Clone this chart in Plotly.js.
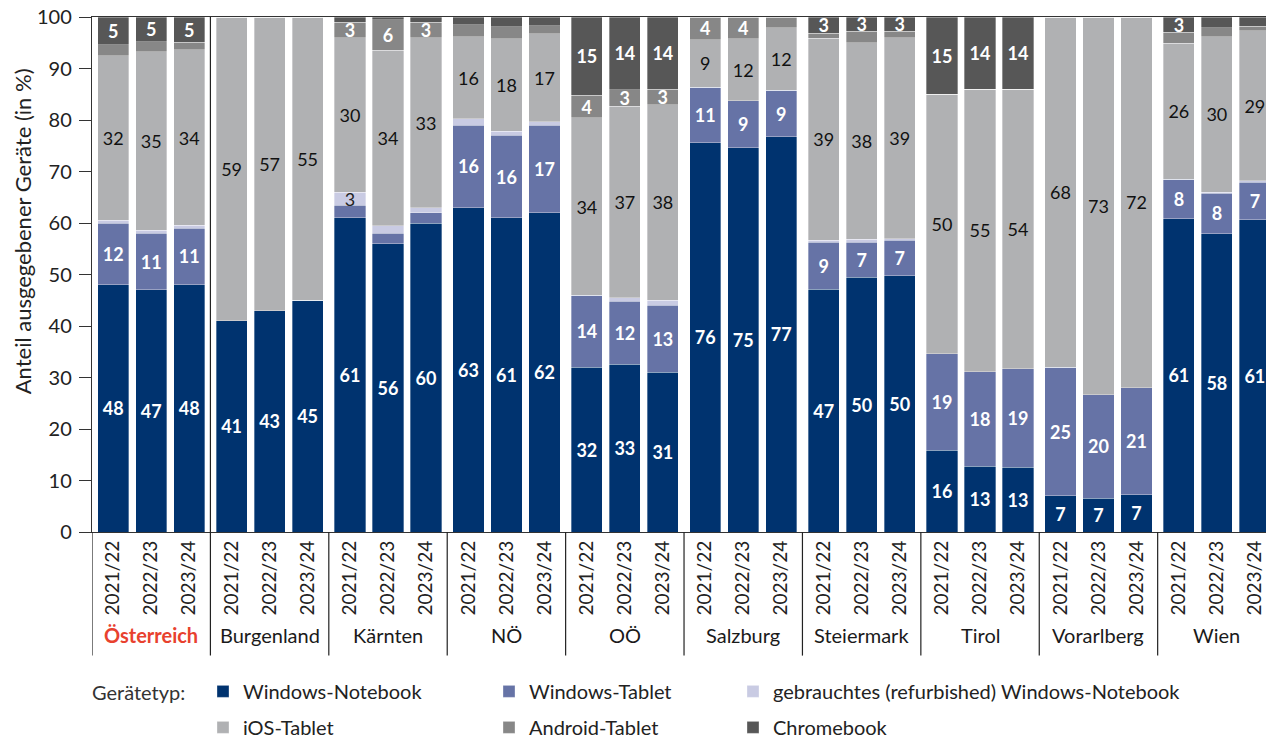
<!DOCTYPE html>
<html><head><meta charset="utf-8">
<script src="https://cdn.plot.ly/plotly-3.0.1.min.js"></script>
<style>html,body{margin:0;padding:0;background:#fff}</style>
</head><body><div id="chart" style="width:1266px;height:738px"></div>
<script>
// ---- data ----
const regions = ['Österreich','Burgenland','Kärnten','NÖ','OÖ','Salzburg','Steiermark','Tirol','Vorarlberg','Wien'];
const years = ['2021/22','2022/23','2023/24'];
const windowsNotebook = [48,47,48, 41,43,45, 61,56,60, 63,61,62, 32,32.6,31, 75.6,74.6,76.7, 47.1,49.5,49.8, 15.9,12.8,12.6, 7,6.6,7.2, 60.8,57.9,60.6];
const windowsTablet   = [12,11,11, 0,0,0, 2.4,2,2, 16,16,17, 14,12.2,13, 10.8,9.1,9.1, 9.2,6.8,6.9, 18.7,18.3,19.1, 25,20.1,20.8, 7.7,7.9,7.3];
const refurbished     = [0.5,0.6,0.6, 0,0,0, 2.6,1.5,1, 1.2,0.8,0.7, 0,0.7,1, 0,0,0, 0.4,0.5,0.2, 0,0,0, 0,0,0, 0,0.2,0.3];
const iosTablet       = [32,34.7,34, 59,57,55, 30,34,33, 16,18,17, 34.4,37.2,38, 9.2,12.1,12.1, 39.2,38.2,39.1, 50.4,54.9,54.3, 68,73.3,72, 26.4,30.2,29.1];
const androidTablet   = [2.1,1.9,1.5, 0,0,0, 3,6,3, 2.3,2.3,1.6, 4.4,3.2,3, 4.4,4.2,2.1, 0.9,2.2,1.2, 0,0,0, 0,0,0, 2.1,1.7,0.9];
const chromebook      = [5.4,4.8,4.9, 0,0,0, 1,0.5,1, 1.5,1.9,1.7, 15.2,14.1,14, 0,0,0, 3.2,2.8,2.8, 15,14,14, 0,0,0, 3,2.1,1.8];
const yTitle = 'Anteil ausgegebener Geräte (in %)';
const legendTitle = 'Gerätetyp:';

// ---- layout helpers ----
const FONT = 'Lato, "Noto Sans", sans-serif';
const groupStep = 3.116;           // bars per group incl. gap
const half = 0.558;                // distance bar centre -> group edge
const xPos = [], tickText = [];
regions.forEach((r, g) => years.forEach((y, i) => { xPos.push(g * groupStep + i); tickText.push(y); }));
const labels = v => v.map(d => d >= 2.5 ? String(Math.round(d)) : '');

const series = [
  {name: 'Windows-Notebook', y: windowsNotebook, color: '#00336f', tc: '#ffffff', bold: true, legend: 'legend'},
  {name: 'Windows-Tablet', y: windowsTablet, color: '#6673a6', tc: '#ffffff', bold: true, legend: 'legend2'},
  {name: 'gebrauchtes (refurbished) Windows-Notebook', y: refurbished, color: '#c9cbe3', tc: '#222222', bold: false, legend: 'legend3'},
  {name: 'iOS-Tablet', y: iosTablet, color: '#b0b1b3', tc: '#111111', bold: false, legend: 'legend'},
  {name: 'Android-Tablet', y: androidTablet, color: '#878787', tc: '#ffffff', bold: true, legend: 'legend2'},
  {name: 'Chromebook', y: chromebook, color: '#575757', tc: '#ffffff', bold: true, legend: 'legend3'}
];

const traces = series.map((s, k) => ({
  type: 'bar', name: s.name, x: xPos, y: s.y, width: 0.82,
  marker: {color: s.color, line: {color: 'rgba(255,255,255,0.55)', width: 0.6}},
  text: labels(s.y), textposition: 'inside', insidetextanchor: 'middle', textangle: 0,
  constraintext: 'none',
  insidetextfont: {family: FONT, size: 18, color: s.tc, weight: s.bold ? 700 : 400},
  hoverinfo: 'skip', legend: s.legend, legendgroup: 'g' + k
}));

const shapes = [];
for (let g = 0; g < regions.length; g++) {
  const xb = g * groupStep - half;
  shapes.push({type: 'line', xref: 'x', yref: 'paper', x0: xb, x1: xb, y0: g === 1 ? 1 : 0, y1: -0.24,
    line: {color: '#222', width: 1.2}});
}

const annotations = regions.map((r, g) => ({
  xref: 'x', yref: 'paper', x: g * groupStep + 1, y: -0.2, text: r, showarrow: false,
  xanchor: 'center', yanchor: 'middle',
  font: {family: FONT, size: 20, color: g === 0 ? '#e8412e' : '#1a1a1a', weight: g === 0 ? 700 : 400}
}));
annotations.push({xref: 'paper', yref: 'paper', x: -0.002, y: -0.311, text: legendTitle, showarrow: false,
  xanchor: 'left', yanchor: 'middle', font: {family: FONT, size: 20, color: '#333'}});
annotations.push({xref: 'paper', yref: 'paper', x: -0.0596, y: 0.584, text: yTitle, showarrow: false,
  textangle: -90, xanchor: 'center', yanchor: 'middle', font: {family: FONT, size: 22, color: '#222'}});

const legendBase = {orientation: 'v', xref: 'container', yref: 'container', yanchor: 'top', xanchor: 'left',
  y: 0.0896, traceorder: 'grouped', tracegroupgap: 7, bgcolor: 'rgba(0,0,0,0)',
  font: {family: FONT, size: 20, color: '#222'}};

const layout = {
  width: 1266, height: 738,
  margin: {l: 92, r: 0, t: 17, b: 206, autoexpand: false},
  paper_bgcolor: '#ffffff', plot_bgcolor: '#ffffff',
  barmode: 'stack', bargap: 0,
  uniformtext: {mode: 'show', minsize: 18},
  font: {family: FONT, color: '#222'},
  xaxis: {range: [-half, 30.337], showline: true, mirror: true, linecolor: '#333', linewidth: 1.2,
    tickvals: xPos, ticktext: tickText, tickangle: -90, ticks: '', showgrid: false, zeroline: false,
    tickfont: {family: FONT, size: 19, color: '#222'}},
  yaxis: {range: [0, 100], dtick: 10, showline: true, linecolor: '#333', linewidth: 1.2,
    ticks: 'outside', ticklen: 12, tickcolor: '#333', ticklabelstandoff: 3, showgrid: false, zeroline: false,
    tickfont: {family: FONT, size: 20, color: '#222'}},
  legend: Object.assign({}, legendBase, {x: 203 / 1266}),
  legend2: Object.assign({}, legendBase, {x: 489 / 1266}),
  legend3: Object.assign({}, legendBase, {x: 733 / 1266}),
  shapes: shapes, annotations: annotations
};

Plotly.newPlot('chart', traces, layout, {displayModeBar: false, staticPlot: true});
</script></body></html>
